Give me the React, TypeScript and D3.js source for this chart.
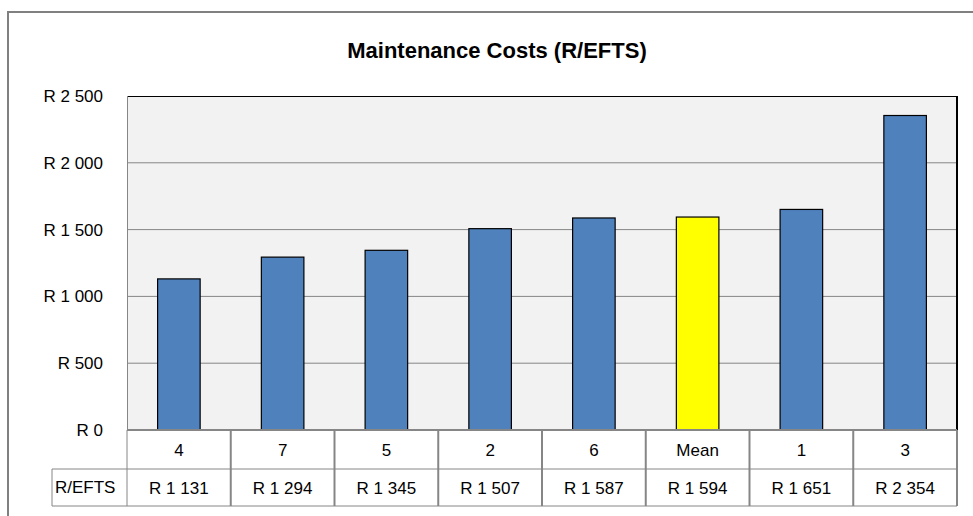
import React from 'react';
import * as d3 from 'd3';

// values
const categories = ['4', '7', '5', '2', '6', 'Mean', '1', '3'];
const values = [1131, 1294, 1345, 1507, 1587, 1594, 1651, 2354];
const valueLabels = ['R 1 131', 'R 1 294', 'R 1 345', 'R 1 507', 'R 1 587', 'R 1 594', 'R 1 651', 'R 2 354'];
const yTicks = [0, 500, 1000, 1500, 2000, 2500];
const tickLabels = ['R 0', 'R 500', 'R 1 000', 'R 1 500', 'R 2 000', 'R 2 500'];
const rowLabel = 'R/EFTS';

const W = 973;
const H = 516;
const plot = { left: 127, top: 96, right: 957, bottom: 430 };
const rowH = [39, 37];
const font = '"Liberation Sans", Arial, sans-serif';

export default function App() {
  const x = d3.scaleBand<string>()
    .domain(categories)
    .range([plot.left, plot.right])
    .paddingInner(0)
    .paddingOuter(0);
  const y = d3.scaleLinear().domain([0, 2500]).range([plot.bottom, plot.top]);
  const bw = x.bandwidth() * 0.41;
  const row1 = plot.bottom + rowH[0];
  const row2 = row1 + rowH[1];

  return (
    <svg width={W} height={H} style={{ position: 'absolute', left: 0, top: 0, background: '#fff' }}>
      {/* outer frame */}
      <rect x={8} y={12} width={W + 10} height={H + 10} fill="#fff" stroke="#808080" strokeWidth={2} />

      <text x={497} y={58} textAnchor="middle" fontFamily={font} fontSize={22} fontWeight="bold" fill="#000">
        Maintenance Costs (R/EFTS)
      </text>

      {/* plot area */}
      <rect x={plot.left} y={plot.top} width={plot.right - plot.left} height={plot.bottom - plot.top} fill="#f2f2f2" />
      {yTicks.slice(1, -1).map(t => (
        <line key={t} x1={plot.left} x2={plot.right} y1={y(t)} y2={y(t)} stroke="#868686" strokeWidth={1} />
      ))}
      <line x1={plot.left} x2={plot.right} y1={plot.top + 0.5} y2={plot.top + 0.5} stroke="#000" strokeWidth={1} />
      <line x1={plot.right} x2={plot.right} y1={plot.top} y2={plot.bottom} stroke="#000" strokeWidth={2} />
      <line x1={plot.left + 0.5} x2={plot.left + 0.5} y1={plot.top} y2={plot.bottom} stroke="#868686" strokeWidth={1} />

      {tickLabels.map((l, i) => (
        <text key={l} x={103} y={y(yTicks[i]) + 6} textAnchor="end" fontFamily={font} fontSize={17} fill="#000">
          {l}
        </text>
      ))}

      {categories.map((c, i) => (
        <rect
          key={c}
          x={x(c)! + (x.bandwidth() - bw) / 2}
          y={y(values[i])}
          width={bw}
          height={plot.bottom - y(values[i])}
          fill={c === 'Mean' ? '#ffff00' : '#4f81bd'}
          stroke="#000"
          strokeWidth={1.2}
        />
      ))}

      {/* data table */}
      <g stroke="#868686" fill="none">
        <line x1={plot.left} x2={plot.right} y1={plot.bottom} y2={plot.bottom} strokeWidth={2} />
        <line x1={52} x2={plot.right} y1={row1} y2={row1} strokeWidth={1} />
        <line x1={52} x2={plot.right} y1={row2} y2={row2} strokeWidth={1} />
        <line x1={52} x2={52} y1={row1} y2={row2} strokeWidth={1} />
        {x.domain().map(c => (
          <line key={c} x1={x(c)!} x2={x(c)!} y1={plot.bottom} y2={row2} strokeWidth={c === categories[0] ? 1 : 2} />
        ))}
        <line x1={plot.right} x2={plot.right} y1={plot.bottom} y2={row2} strokeWidth={2} />
      </g>
      {categories.map((c, i) => (
        <g key={c} fontFamily={font} fontSize={17} fill="#000" textAnchor="middle">
          <text x={x(c)! + x.bandwidth() / 2} y={plot.bottom + 26}>{c}</text>
          <text x={x(c)! + x.bandwidth() / 2} y={row1 + 25}>{valueLabels[i]}</text>
        </g>
      ))}
      <text x={55} y={row1 + 24} fontFamily={font} fontSize={17} fill="#000">{rowLabel}</text>
    </svg>
  );
}
